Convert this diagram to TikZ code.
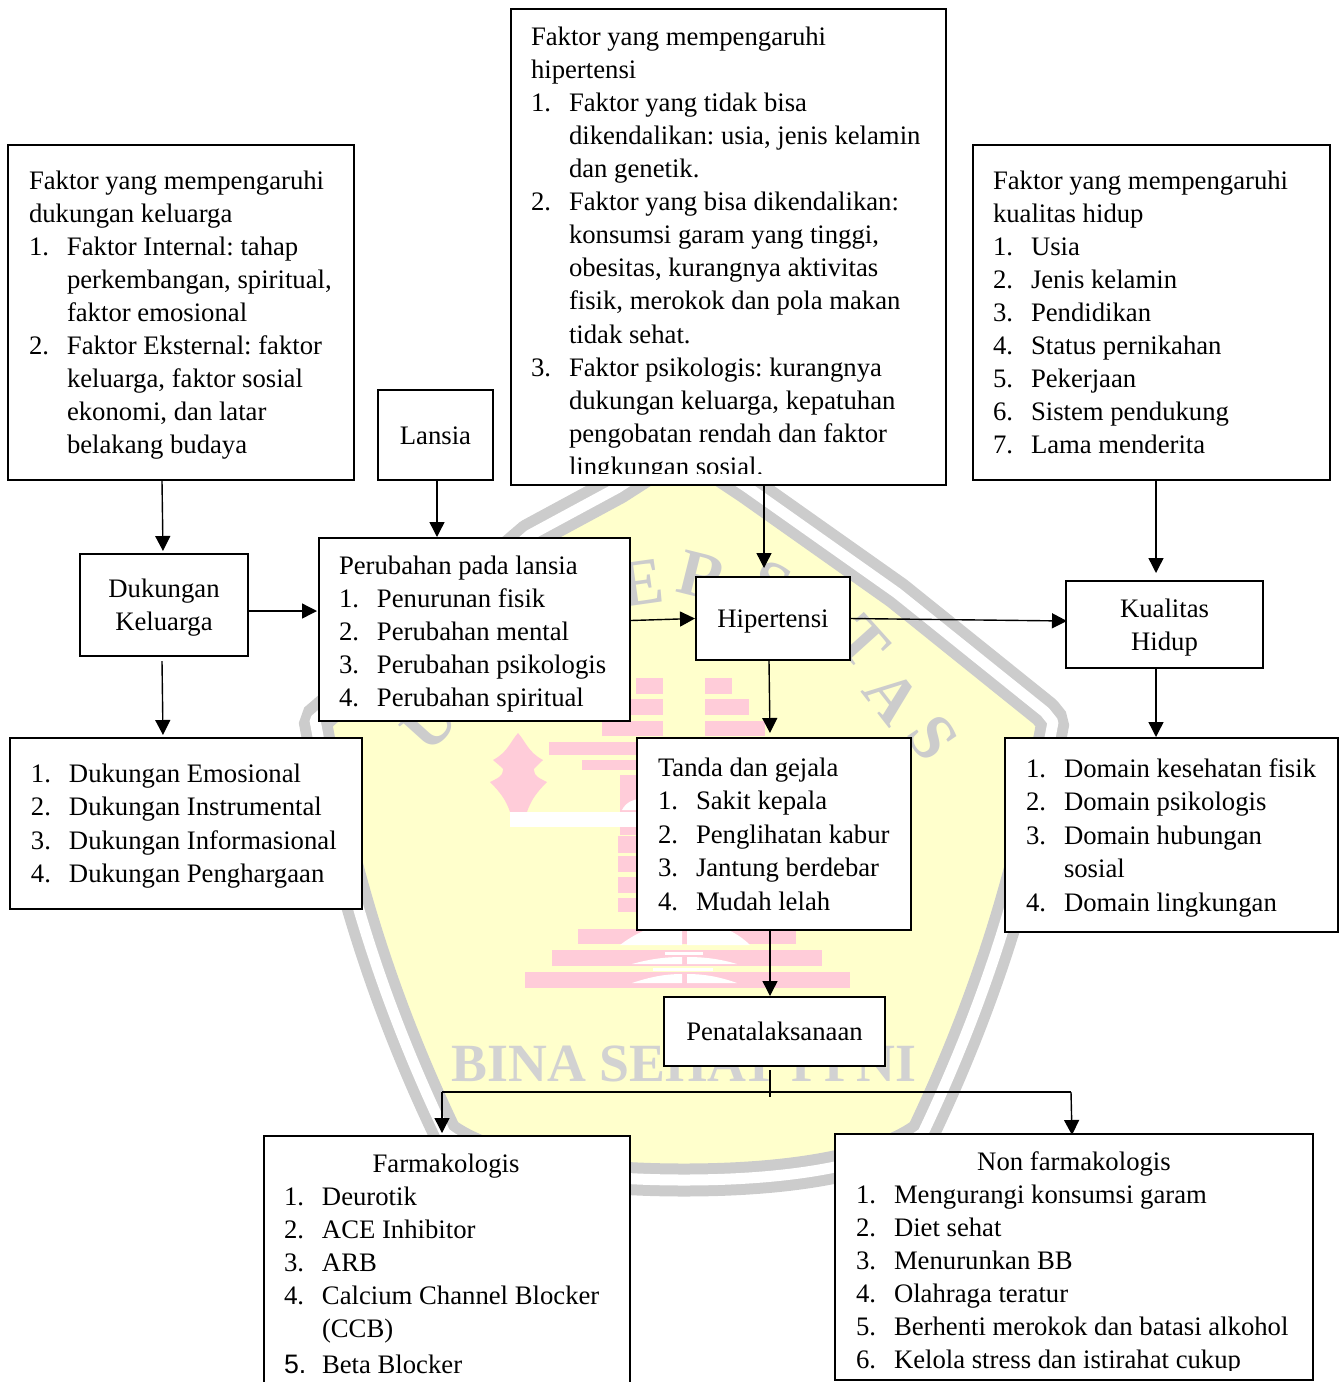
\documentclass[tikz,border=0pt]{standalone}
\usepackage{fontspec}
\setmainfont{Liberation Serif}
\newfontfamily\numsans{Liberation Sans}
\usetikzlibrary{arrows.meta,calc}
\definecolor{wmyellow}{HTML}{FFFFCC}
\definecolor{wmpink}{HTML}{FFCCD9}
\definecolor{wmgray}{HTML}{CCCCCC}
\definecolor{wmtext}{HTML}{D2D2D2}
\newcommand{\LI}[2]{\strut\makebox[19pt][l]{#1}#2}
\newcommand{\CT}[1]{\strut\hspace*{19pt}#1}
\newcommand{\TT}[1]{\strut #1}
\newcommand{\dn}[2]{\raisebox{-#1pt}[\height][\depth]{#2}}
\newcommand{\boxat}[5]{\node[frame,minimum width={(#4-#2)*0.5pt},minimum height={(#5-#3)*0.5pt}] (#1) at ({(#2+#4)/2},{(#3+#5)/2})}
\tikzset{
  x=0.5pt,y=-0.5pt,
  frame/.style={draw=black,fill=white,line width=1.35pt,inner sep=0pt,outer sep=0pt,align=center,font=\fontsize{13.35}{16.55}\selectfont\frenchspacing},
  txt/.style={anchor=north west,inner sep=0pt,outer sep=0pt,align=left,font=\fontsize{13.35}{16.55}\selectfont\frenchspacing},
  txtwide/.style={txt,font=\fontsize{13.35}{16.75}\selectfont\frenchspacing},
  arr/.style={draw=black,line width=0.7pt,-{Triangle[length=7.5pt,width=7.5pt]}},
  plain/.style={draw=black,line width=0.7pt},
  pinkbar/.style={fill=wmpink,draw=none},
  wmletter/.style={text=wmgray,font=\fontsize{33}{33}\selectfont\bfseries,inner sep=0pt}
}
\begin{document}
\begin{tikzpicture}
\useasboundingbox (0,0) rectangle (1342,1382);
% watermark shield
\def\shield{(684,445) -- (617,488) -- (530,535) -- (315,720) .. controls (335,830) and (365,965) .. (445,1133) .. controls (480,1160) and (560,1180) .. (684,1180) .. controls (808,1180) and (888,1160) .. (923,1133) .. controls (1003,965) and (1033,830) .. (1053,722) -- (1045,712) -- (897,593) -- (747,487) -- cycle}
\fill[wmyellow] \shield;
\draw[wmgray,line width=16.5pt,line join=bevel] \shield;
\draw[white,line width=5.5pt,line join=bevel] \shield;
% watermark logo
\foreach \a/\b/\c/\d in {636/678/663/694,618/699/663/715,602/721/663/736,549/742/640/755,582/760/640/770,705/678/732/694,705/699/749/715,705/721/765/736,620/775/640/835,618/836/637/853,618/856/637/872,618/877/637/893,618/898/637/912,578/929/796/944,552/950/822/966,525/972/850/988}
  {\fill[pinkbar] (\a,\b) rectangle (\c,\d);}
\fill[pinkbar] (518,733) .. controls (510,742) and (508,752) .. (493,760) .. controls (500,766) and (505,770) .. (503,770) .. controls (503,776) and (498,778) .. (490,782) .. controls (500,792) and (506,800) .. (510,812) -- (527,812) .. controls (531,800) and (537,792) .. (547,782) .. controls (539,778) and (534,776) .. (534,770) .. controls (532,770) and (537,766) .. (543,760) .. controls (528,752) and (526,742) .. (518,733) -- cycle;
\fill[white] (510,812) rectangle (640,827);
\fill[white] (622,810) .. controls (626,802) and (634,799) .. (640,799) -- (640,810) -- cycle;
\fill[white] (620,945) .. controls (650,922) and (682,920) .. (682,920) -- (682,945) -- cycle;
\fill[white] (687,945) -- (687,920) .. controls (700,920) and (730,925) .. (750,945) -- cycle;
\foreach \a/\b/\c/\d in {665/952/703/955,653/968/713/971}
  {\fill[white] (\a,\b) rectangle (\c,\d);}
\fill[white] (632,964) .. controls (650,959) and (665,957) .. (682,957) -- (682,964) -- cycle;
\fill[white] (687,964) -- (687,957) .. controls (705,957) and (720,959) .. (737,964) -- cycle;
\fill[white] (632,983) .. controls (650,977) and (665,974) .. (682,974) -- (682,983) -- cycle;
\fill[white] (687,983) -- (687,974) .. controls (705,974) and (720,977) .. (737,983) -- cycle;
% watermark text
\node[wmletter,rotate=48] (wmu) at (430,724) {U};
\node[wmletter,rotate=8] (wme) at (641,583) {E};
\node[wmletter,rotate=-14] (wmr) at (703,576) {R};
\node[wmletter,rotate=-26] (wms) at (770,585) {S};
\node[wmletter,rotate=-48] (wmt) at (862,642) {T};
\node[wmletter,rotate=-52] (wma) at (892,697) {A};
\node[wmletter,rotate=-56] (wmz) at (933,738) {S};
\node[text=wmtext,font=\fontsize{26.9}{26.9}\selectfont\bfseries,inner sep=0pt,anchor=base west] (wmb) at (451,1081) {BINA SEHAT PPNI};
% boxes
\boxat{fdk}{8}{145}{354}{480} {};
\boxat{lansia}{378}{390}{493}{480} {\dn{0.5}{Lansia}};
\boxat{fht}{511}{9}{946}{485} {};
\boxat{fkh}{973}{145}{1330}{480} {};
\boxat{dk}{80}{554}{248}{656} {\dn{1.5}{Dukungan}\\\dn{1.5}{Keluarga}};
\boxat{per}{319}{538}{630}{721} {};
\boxat{hip}{696}{577}{850}{660} {\dn{1.5}{Hipertensi}};
\boxat{kh}{1066}{581}{1263}{668} {\dn{1.5}{Kualitas}\\\dn{1.5}{Hidup}};
\boxat{djn}{10}{738}{362}{909} {};
\boxat{tg}{637}{738}{911}{930} {};
\boxat{dom}{1005}{738}{1338}{932} {};
\boxat{pen}{664}{997}{885}{1066} {Penatalaksanaan};
\boxat{farm}{264}{1136}{630}{1400} {};
\boxat{nonf}{835}{1134}{1313}{1380} {};
% box texts
\node[txt] (tfdk) at (29,166) {\TT{Faktor yang mempengaruhi}\\\TT{dukungan keluarga}\\\LI{1.}{Faktor Internal: tahap}\\\CT{perkembangan, spiritual,}\\\CT{faktor emosional}\\\LI{2.}{Faktor Eksternal: faktor}\\\CT{keluarga, faktor sosial}\\\CT{ekonomi, dan latar}\\\CT{belakang budaya}};
\begin{scope}
\clip (513,11) rectangle (944,473);
\node[txt] (tfht) at (531,22) {\TT{Faktor yang mempengaruhi}\\\TT{hipertensi}\\\LI{1.}{Faktor yang tidak bisa}\\\CT{dikendalikan: usia, jenis kelamin}\\\CT{dan genetik.}\\\LI{2.}{Faktor yang bisa dikendalikan:}\\\CT{konsumsi garam yang tinggi,}\\\CT{obesitas, kurangnya aktivitas}\\\CT{fisik, merokok dan pola makan}\\\CT{tidak sehat.}\\\LI{3.}{Faktor psikologis: kurangnya}\\\CT{dukungan keluarga, kepatuhan}\\\CT{pengobatan rendah dan faktor}\\\CT{lingkungan sosial.}};
\end{scope}
\node[txt] (tfkh) at (993,166) {\TT{Faktor yang mempengaruhi}\\\TT{kualitas hidup}\\\LI{1.}{Usia}\\\LI{2.}{Jenis kelamin}\\\LI{3.}{Pendidikan}\\\LI{4.}{Status pernikahan}\\\LI{5.}{Pekerjaan}\\\LI{6.}{Sistem pendukung}\\\LI{7.}{Lama menderita}};
\node[txt] (tper) at (339,551) {\TT{Perubahan pada lansia}\\\LI{1.}{Penurunan fisik}\\\LI{2.}{Perubahan mental}\\\LI{3.}{Perubahan psikologis}\\\LI{4.}{Perubahan spiritual}};
\node[txtwide] (tdjn) at (31,759) {\LI{1.}{Dukungan Emosional}\\\LI{2.}{Dukungan Instrumental}\\\LI{3.}{Dukungan Informasional}\\\LI{4.}{Dukungan Penghargaan}};
\node[txtwide] (ttg) at (658,753) {\TT{Tanda dan gejala}\\\LI{1.}{Sakit kepala}\\\LI{2.}{Penglihatan kabur}\\\LI{3.}{Jantung berdebar}\\\LI{4.}{Mudah lelah}};
\node[txtwide] (tdom) at (1026,754) {\LI{1.}{Domain kesehatan fisik}\\\LI{2.}{Domain psikologis}\\\LI{3.}{Domain hubungan}\\\CT{sosial}\\\LI{4.}{Domain lingkungan}};
\node[txt] (tfarm) at (284,1149) {\strut\makebox[162pt][c]{Farmakologis}\\\LI{1.}{Deurotik}\\\LI{2.}{ACE Inhibitor}\\\LI{3.}{ARB}\\\LI{4.}{Calcium Channel Blocker}\\\CT{(CCB)}\\[1.5pt]\LI{{\numsans 5.}}{Beta Blocker}};
\begin{scope}
\clip (837,1136) rectangle (1311,1370);
\node[txt] (tnonf) at (856,1147) {\strut\makebox[218pt][c]{Non farmakologis}\\\LI{1.}{Mengurangi konsumsi garam}\\\LI{2.}{Diet sehat}\\\LI{3.}{Menurunkan BB}\\\LI{4.}{Olahraga teratur}\\\LI{5.}{Berhenti merokok dan batasi alkohol}\\\LI{6.}{Kelola stress dan istirahat cukup}};
\end{scope}
% connectors
\draw[arr] ($(dk.north |- fdk.south)+(-2,1)$) -- ($(dk.north)+(-1,-3)$);
\draw[arr] ($(lansia.south)+(1.5,1)$) -- ($(lansia.south |- per.north)+(1.5,-1)$);
\draw[arr] ($(hip.north |- fht.south)+(-9,1)$) -- ($(hip.north)+(-9,-9)$);
\draw[arr] ($(kh.north |- fkh.south)+(-8.5,1)$) -- ($(kh.north)+(-8.5,-8)$);
\draw[arr] ($(dk.east)+(0,6)$) -- ($(per.west)+(-2,-18.5)$);
\draw[arr] ($(per.east)+(1,-9)$) -- ($(hip.west)+(-1,0)$);
\draw[arr] (hip.east) -- ($(kh.west)+(1,-3.5)$);
\draw[arr] ($(dk.south)+(-2,5)$) -- ($(dk.south |- djn.north)+(-1,-3)$);
\draw[arr] ($(hip.south)+(-4,1)$) -- ($(hip.south |- tg.north)+(-3,-5)$);
\draw[arr] ($(kh.south)+(-8.5,1)$) -- ($(kh.south |- dom.north)+(-8.5,-1)$);
\draw[arr] ($(tg.south)+(-4,1)$) -- ($(tg.south |- pen.north)+(-4,-1)$);
\coordinate (busl) at (442,1092);
\coordinate (busr) at (1071,1092);
\draw[plain] ($(pen.south)+(-4.5,4)$) -- ($(pen.south)+(-4.5,31)$);
\draw[plain] (busl) -- (busr);
\draw[arr] (busl) -- ($(busl |- farm.north)+(0,-3)$);
\draw[arr] (busr) -- ($(busr |- nonf.north)+(1,1)$);
\end{tikzpicture}
\end{document}
